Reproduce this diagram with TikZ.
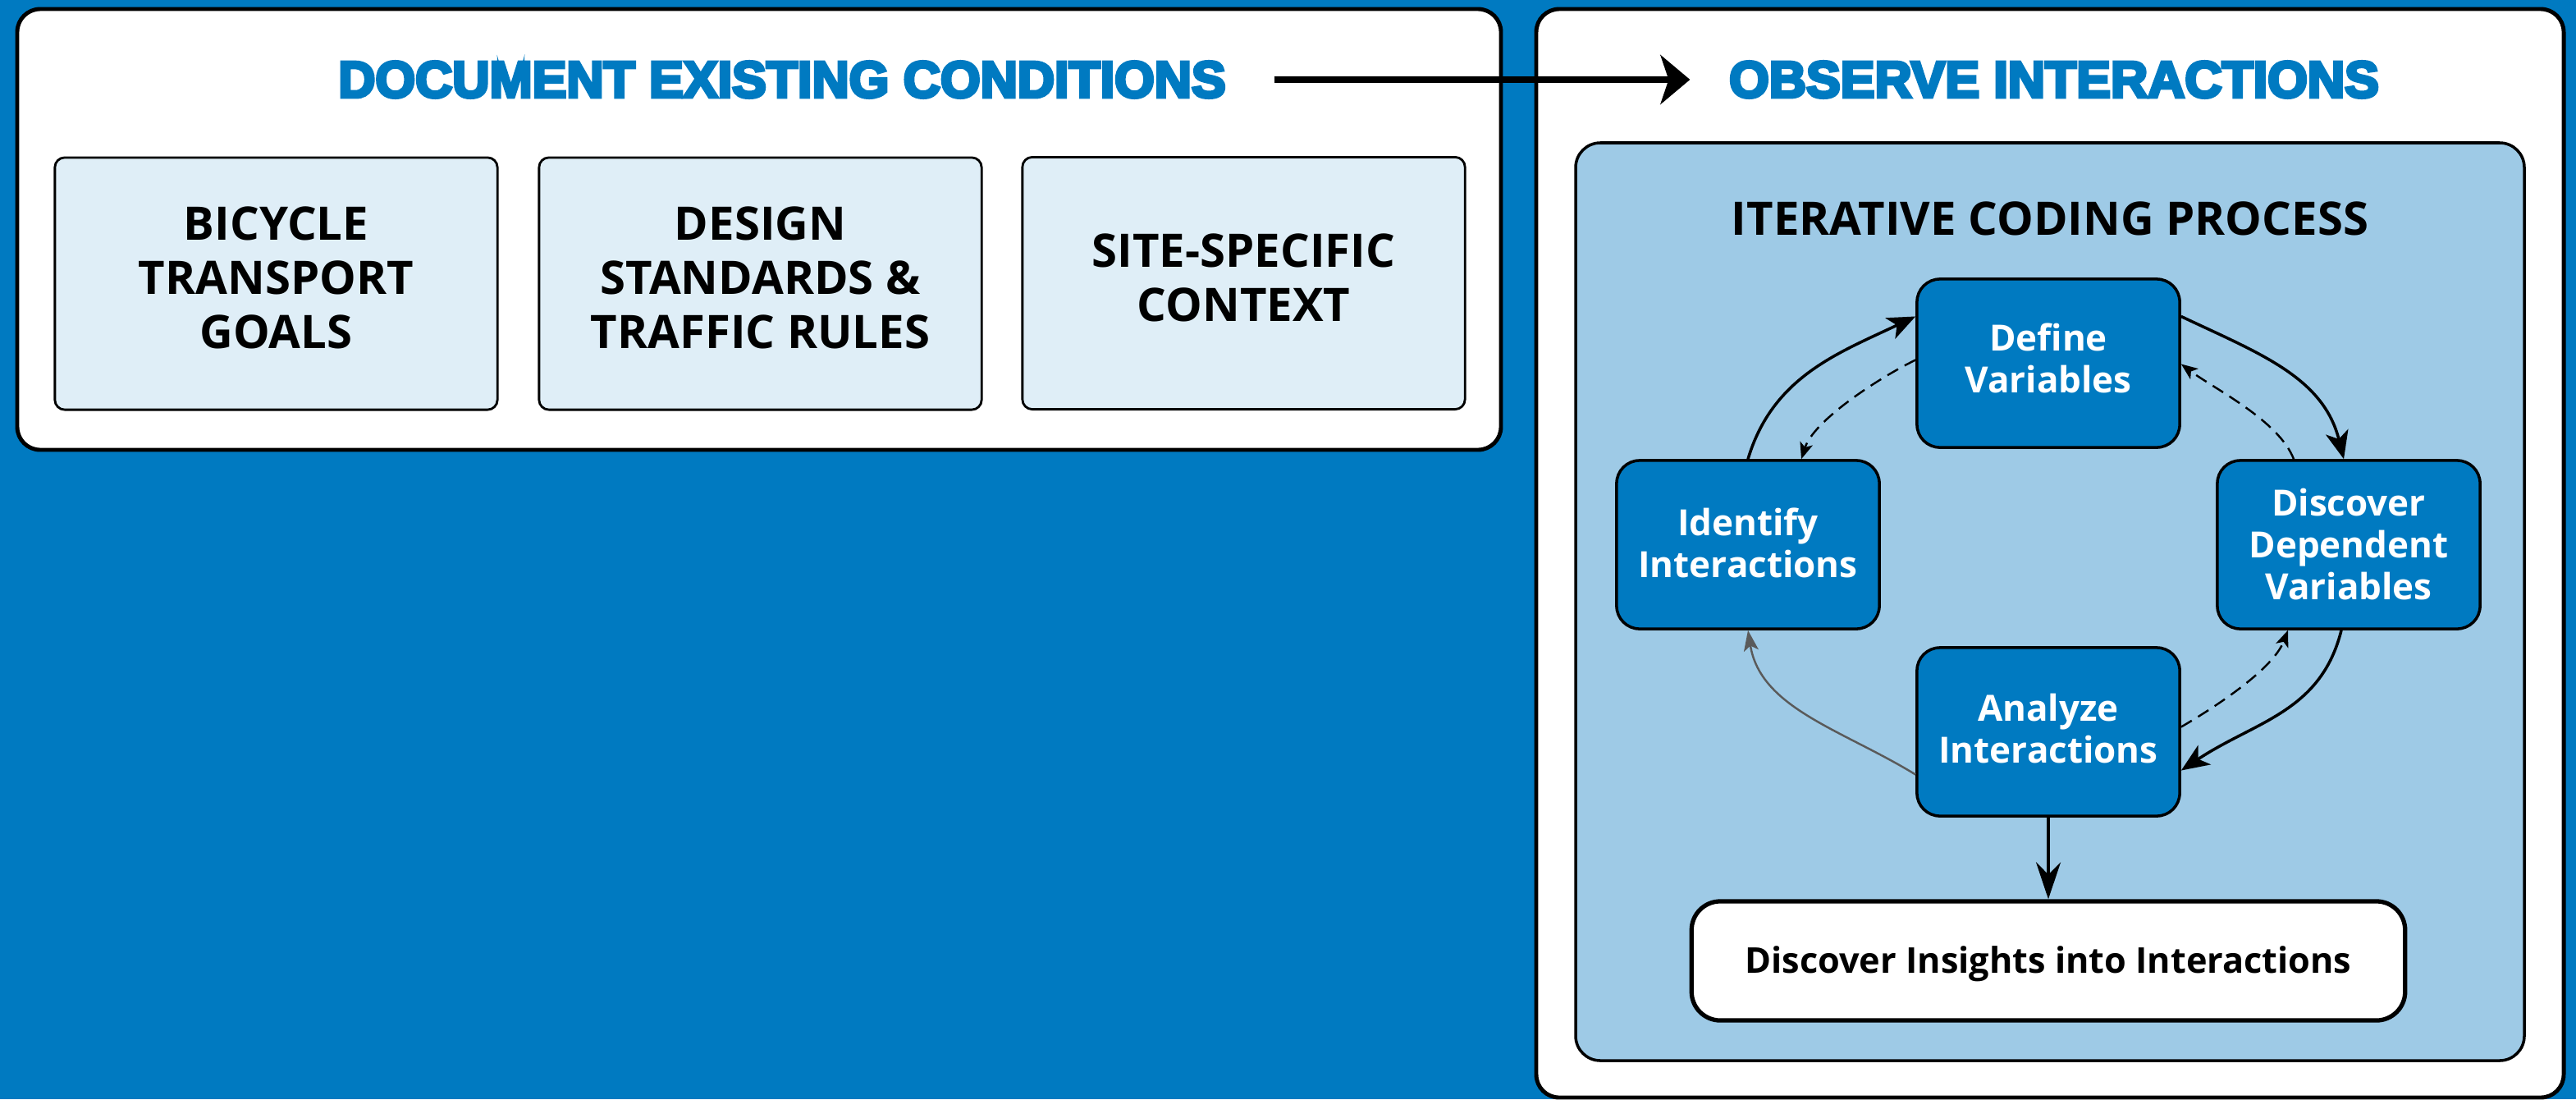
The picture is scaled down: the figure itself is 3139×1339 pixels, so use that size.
\documentclass[tikz,border=0pt]{standalone}
\usepackage{fontspec}
\setmainfont{Open Sans}
\newfontfamily\headfont{Liberation Sans}[BoldFeatures={FakeBold=6}]
\usetikzlibrary{arrows.meta}
\definecolor{bgblue}{RGB}{0,122,193}
\definecolor{lightfill}{RGB}{223,238,247}
\definecolor{panelblue}{RGB}{158,202,230}
\definecolor{grayarrow}{RGB}{90,90,90}
\newcommand{\lines}[2][0cm]{\raisebox{#1}[\height][\depth]{\begin{tabular}{@{}c@{}}#2\end{tabular}}}
\begin{document}
\begin{tikzpicture}[x=0.01cm,y=-0.01cm,
  panel/.style={draw=black,line width=1.4pt,fill=white,rounded corners=0.28cm},
  lightbox/.style={draw=black,line width=0.8pt,fill=lightfill,rounded corners=0.12cm,minimum width=5.39cm,minimum height=3.07cm,align=center,font=\fontsize{16}{18.8}\selectfont\bfseries,inner sep=0pt},
  cyc/.style={draw=black,line width=1pt,fill=bgblue,rounded corners=0.28cm,minimum width=3.2cm,minimum height=2.05cm,align=center,text=white,font=\fontsize{12.5}{14.5}\selectfont\bfseries,inner sep=0pt},
  head/.style={text=bgblue,font=\headfont\fontsize{17.8}{20}\selectfont\bfseries,inner sep=0pt},
  solidarr/.style={line width=1pt,-{Stealth[length=0.34cm,width=0.28cm,inset=0.09cm]}},
  dasharr/.style={line width=0.7pt,dash pattern=on 0.15cm off 0.09cm,-{Stealth[length=0.2cm,width=0.16cm,inset=0.05cm]}},
  grayarr/.style={line width=0.7pt,draw=grayarrow,-{Stealth[length=0.25cm,width=0.18cm,inset=0.06cm]}}
]
\useasboundingbox (0,0) rectangle (3139,1339);
\fill[bgblue] (0,0) rectangle (3139,1339);
% panels
\draw[panel] (21,11) rectangle (1829,548);
\draw[panel] (1872,11) rectangle (3124,1337);
\draw[line width=1pt,fill=panelblue,rounded corners=0.3cm] (1920,174) rectangle (3076,1292);
% headings
\node[head] (t1) at (953,97) {DOCUMENT EXISTING CONDITIONS};
\node[head] (t2) at (2503,97) {OBSERVE INTERACTIONS};
% light boxes
\node[lightbox] (b1) at (336.5,345.5) {\lines{BICYCLE\\TRANSPORT\\GOALS}};
\node[lightbox] (b2) at (926.5,345.5) {\lines{DESIGN\\STANDARDS \&\\TRAFFIC RULES}};
\node[lightbox] (b3) at (1515.5,345) {\lines{SITE-SPECIFIC\\CONTEXT}};
% iterative process
\node[font=\fontsize{16}{18.8}\selectfont\bfseries,inner sep=0pt] (icp) at (2498,266) {ITERATIVE CODING PROCESS};
\node[cyc] (def) at (2496,442.5) {\lines{Define\\Variables}};
\node[cyc] (idf) at (2130,663.5) {\lines[-0.04cm]{Identify\\Interactions}};
\node[cyc] (dis) at (2862,663.5) {\lines[-0.06cm]{Discover\\Dependent\\Variables}};
\node[cyc] (ana) at (2496,891.5) {\lines[-0.02cm]{Analyze\\Interactions}};
\node[draw=black,line width=1.5pt,fill=white,rounded corners=0.35cm,minimum width=8.69cm,minimum height=1.45cm,inner sep=0pt,font=\fontsize{12.3}{15}\selectfont\bfseries] (ins) at (2496,1170.5) {\raisebox{-0.04cm}[\height][\depth]{Discover Insights into Interactions}};
% cycle connectors
\draw[solidarr] (idf.north) .. controls +(30,-100) and +(-95,45) .. ([yshift=0.57cm]def.west);
\draw[solidarr] ([yshift=0.57cm]def.east) .. controls +(95,45) and +(-25,-100) .. ([xshift=-0.06cm]dis.north);
\draw[solidarr] ([xshift=-0.09cm]dis.south) .. controls +(-25,100) and +(90,-60) .. ([yshift=-0.47cm]ana.east);
\draw[grayarr] ([yshift=-0.52cm]ana.west) .. controls +(-90,-55) and +(15,95) .. (idf.south);
\draw[dasharr] ([yshift=0.04cm]def.west) .. controls +(-45,22) and +(15,-47) .. ([xshift=0.65cm]idf.north);
\draw[dasharr] ([xshift=-0.67cm]dis.north) .. controls +(-18,-47) and +(40,30) .. ([yshift=-0.01cm]def.east);
\draw[dasharr] ([yshift=0.06cm]ana.east) .. controls +(43,-25) and +(-18,47) .. ([xshift=-0.74cm]dis.south);
\draw[line width=1pt,-{Stealth[length=0.45cm,width=0.3cm,inset=0.15cm]}] (ana.south) -- (ins.north);
% main arrow
\draw[line width=2.3pt,-{Stealth[length=0.36cm,width=0.6cm,inset=0.1cm]}] ([xshift=0.58cm]t1.east) -- ([xshift=-0.47cm]t2.west);
\end{tikzpicture}
\end{document}
